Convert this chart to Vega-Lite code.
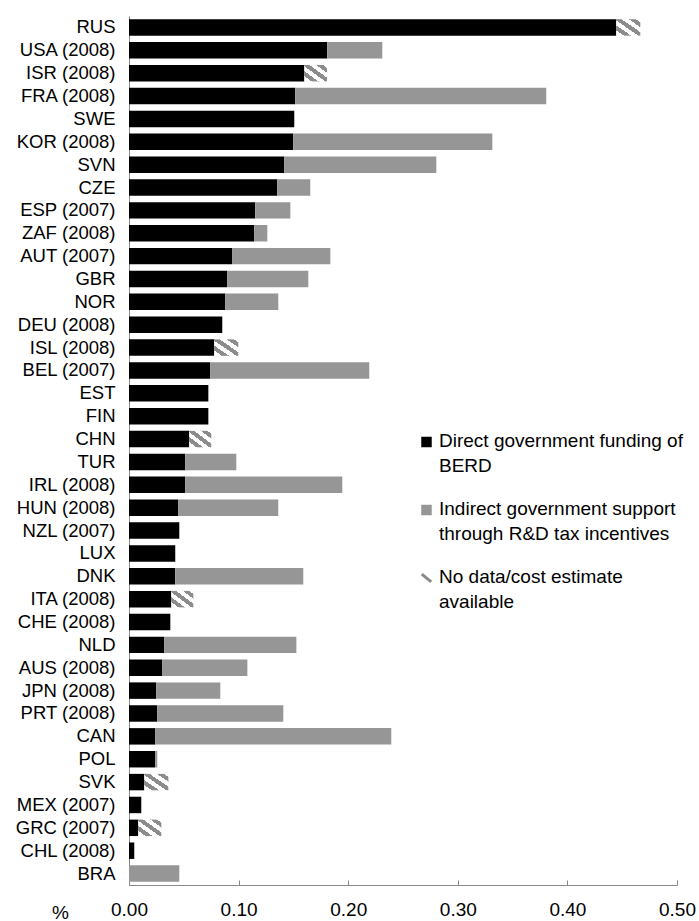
{
  "$schema": "https://vega.github.io/schema/vega-lite/v6.json",
  "autosize": "none",
  "width": 548,
  "height": 869,
  "padding": {"left": 129, "top": 16, "right": 22, "bottom": 36},
  "background": "white",
  "config": {
    "font": "Liberation Sans",
    "view": {"stroke": null}
  },
  "data": {
    "values": [
      {"c": "RUS", "t": "direct", "v": 0.4446},
      {"c": "RUS", "t": "nodata", "v": 0.0219},
      {"c": "USA (2008)", "t": "direct", "v": 0.1809},
      {"c": "USA (2008)", "t": "indirect", "v": 0.0502},
      {"c": "ISR (2008)", "t": "direct", "v": 0.1600},
      {"c": "ISR (2008)", "t": "nodata", "v": 0.0207},
      {"c": "FRA (2008)", "t": "direct", "v": 0.1517},
      {"c": "FRA (2008)", "t": "indirect", "v": 0.2290},
      {"c": "SWE", "t": "direct", "v": 0.1508},
      {"c": "KOR (2008)", "t": "direct", "v": 0.1499},
      {"c": "KOR (2008)", "t": "indirect", "v": 0.1816},
      {"c": "SVN", "t": "direct", "v": 0.1417},
      {"c": "SVN", "t": "indirect", "v": 0.1387},
      {"c": "CZE", "t": "direct", "v": 0.1353},
      {"c": "CZE", "t": "indirect", "v": 0.0301},
      {"c": "ESP (2007)", "t": "direct", "v": 0.1152},
      {"c": "ESP (2007)", "t": "indirect", "v": 0.0320},
      {"c": "ZAF (2008)", "t": "direct", "v": 0.1143},
      {"c": "ZAF (2008)", "t": "indirect", "v": 0.0119},
      {"c": "AUT (2007)", "t": "direct", "v": 0.0943},
      {"c": "AUT (2007)", "t": "indirect", "v": 0.0894},
      {"c": "GBR", "t": "direct", "v": 0.0897},
      {"c": "GBR", "t": "indirect", "v": 0.0739},
      {"c": "NOR", "t": "direct", "v": 0.0879},
      {"c": "NOR", "t": "indirect", "v": 0.0483},
      {"c": "DEU (2008)", "t": "direct", "v": 0.0851},
      {"c": "ISL (2008)", "t": "direct", "v": 0.0778},
      {"c": "ISL (2008)", "t": "nodata", "v": 0.0219},
      {"c": "BEL (2007)", "t": "direct", "v": 0.0742},
      {"c": "BEL (2007)", "t": "indirect", "v": 0.1450},
      {"c": "EST", "t": "direct", "v": 0.0724},
      {"c": "FIN", "t": "direct", "v": 0.0724},
      {"c": "CHN", "t": "direct", "v": 0.0550},
      {"c": "CHN", "t": "nodata", "v": 0.0201},
      {"c": "TUR", "t": "direct", "v": 0.0513},
      {"c": "TUR", "t": "indirect", "v": 0.0466},
      {"c": "IRL (2008)", "t": "direct", "v": 0.0513},
      {"c": "IRL (2008)", "t": "indirect", "v": 0.1433},
      {"c": "HUN (2008)", "t": "direct", "v": 0.0450},
      {"c": "HUN (2008)", "t": "indirect", "v": 0.0912},
      {"c": "NZL (2007)", "t": "direct", "v": 0.0459},
      {"c": "LUX", "t": "direct", "v": 0.0422},
      {"c": "DNK", "t": "direct", "v": 0.0422},
      {"c": "DNK", "t": "indirect", "v": 0.1168},
      {"c": "ITA (2008)", "t": "direct", "v": 0.0386},
      {"c": "ITA (2008)", "t": "nodata", "v": 0.0201},
      {"c": "CHE (2008)", "t": "direct", "v": 0.0377},
      {"c": "NLD", "t": "direct", "v": 0.0322},
      {"c": "NLD", "t": "indirect", "v": 0.1205},
      {"c": "AUS (2008)", "t": "direct", "v": 0.0304},
      {"c": "AUS (2008)", "t": "indirect", "v": 0.0776},
      {"c": "JPN (2008)", "t": "direct", "v": 0.0249},
      {"c": "JPN (2008)", "t": "indirect", "v": 0.0584},
      {"c": "PRT (2008)", "t": "direct", "v": 0.0258},
      {"c": "PRT (2008)", "t": "indirect", "v": 0.1150},
      {"c": "CAN", "t": "direct", "v": 0.0240},
      {"c": "CAN", "t": "indirect", "v": 0.2153},
      {"c": "POL", "t": "direct", "v": 0.0240},
      {"c": "POL", "t": "indirect", "v": 0.0018},
      {"c": "SVK", "t": "direct", "v": 0.0140},
      {"c": "SVK", "t": "nodata", "v": 0.0219},
      {"c": "MEX (2007)", "t": "direct", "v": 0.0112},
      {"c": "GRC (2007)", "t": "direct", "v": 0.0085},
      {"c": "GRC (2007)", "t": "nodata", "v": 0.0210},
      {"c": "CHL (2008)", "t": "direct", "v": 0.0048},
      {"c": "BRA", "t": "indirect", "v": 0.0459}
    ]
  },
  "mark": {"type": "bar", "strokeWidth": 0},
  "encoding": {
    "y": {
      "field": "c",
      "type": "nominal",
      "sort": null,
      "scale": {"paddingInner": 0.28, "paddingOuter": 0.14},
      "axis": {
        "title": null,
        "ticks": false,
        "grid": false,
        "labelPadding": 14,
        "labelFontSize": 18.5,
        "labelColor": "#000000",
        "labelLimit": 200,
        "domainColor": "#898989",
        "domainWidth": 1
      }
    },
    "x": {
      "field": "v",
      "type": "quantitative",
      "stack": "zero",
      "scale": {"domain": [0, 0.5], "nice": false},
      "axis": {
        "title": "%",
        "format": ".2f",
        "values": [0, 0.1, 0.2, 0.3, 0.4, 0.5],
        "grid": false,
        "tickSize": -5,
        "tickColor": "#898989",
        "domainColor": "#898989",
        "labelFontSize": 19,
        "labelColor": "#000000",
        "labelPadding": 20,
        "labelFlush": false,
        "titleFontSize": 19,
        "titleFontWeight": "normal",
        "titleColor": "#000000",
        "titleX": -69,
        "titleY": 27,
        "titleAlign": "center",
        "titleBaseline": "middle",
        "titleAngle": 0
      }
    },
    "order": {"field": "t"},
    "color": {
      "condition": {
        "test": "datum.t === 'nodata'",
        "value": {
          "gradient": "linear",
          "x1": 0, "y1": 1, "x2": 1, "y2": 0,
          "stops": [
            {"offset": 0, "color": "#ffffff"},
            {"offset": 0.16, "color": "#ffffff"},
            {"offset": 0.16, "color": "#8c8c8c"},
            {"offset": 0.31, "color": "#8c8c8c"},
            {"offset": 0.31, "color": "#ffffff"},
            {"offset": 0.46, "color": "#ffffff"},
            {"offset": 0.46, "color": "#8c8c8c"},
            {"offset": 0.61, "color": "#8c8c8c"},
            {"offset": 0.61, "color": "#ffffff"},
            {"offset": 0.76, "color": "#ffffff"},
            {"offset": 0.76, "color": "#8c8c8c"},
            {"offset": 0.91, "color": "#8c8c8c"},
            {"offset": 0.91, "color": "#ffffff"},
            {"offset": 1, "color": "#ffffff"}
          ]
        }
      },
      "field": "t",
      "type": "nominal",
      "scale": {
        "domain": ["direct", "indirect", "nodata"],
        "range": ["#000000", "#969696", "#b0b0b0"]
      },
      "legend": {
        "title": null,
        "orient": "none",
        "legendX": 288,
        "legendY": 416.5,
        "direction": "vertical",
        "symbolSize": 110,
        "symbolType": "square",
        "labelFontSize": 19,
        "labelColor": "#000000",
        "labelLimit": 300,
        "labelOffset": 3,
        "labelBaseline": "alphabetic",
        "rowPadding": 23,
        "labelExpr": "datum.value === 'direct' ? ['Direct government funding of', 'BERD'] : datum.value === 'indirect' ? ['Indirect government support', 'through R&D tax incentives'] : ['No data/cost estimate', 'available']",
        "encode": {
          "labels": {"update": {"dy": {"value": 5}, "lineHeight": {"value": 25}}},
          "symbols": {
            "update": {
              "shape": {"signal": "datum.value === 'nodata' ? 'M-0.9,-0.75L0.9,0.75' : 'square'"},
              "stroke": {"signal": "datum.value === 'nodata' ? '#8a8a8a' : 'transparent'"},
              "strokeWidth": {"signal": "datum.value === 'nodata' ? 3 : 0"}
            }
          }
        }
      }
    }
  }
}
